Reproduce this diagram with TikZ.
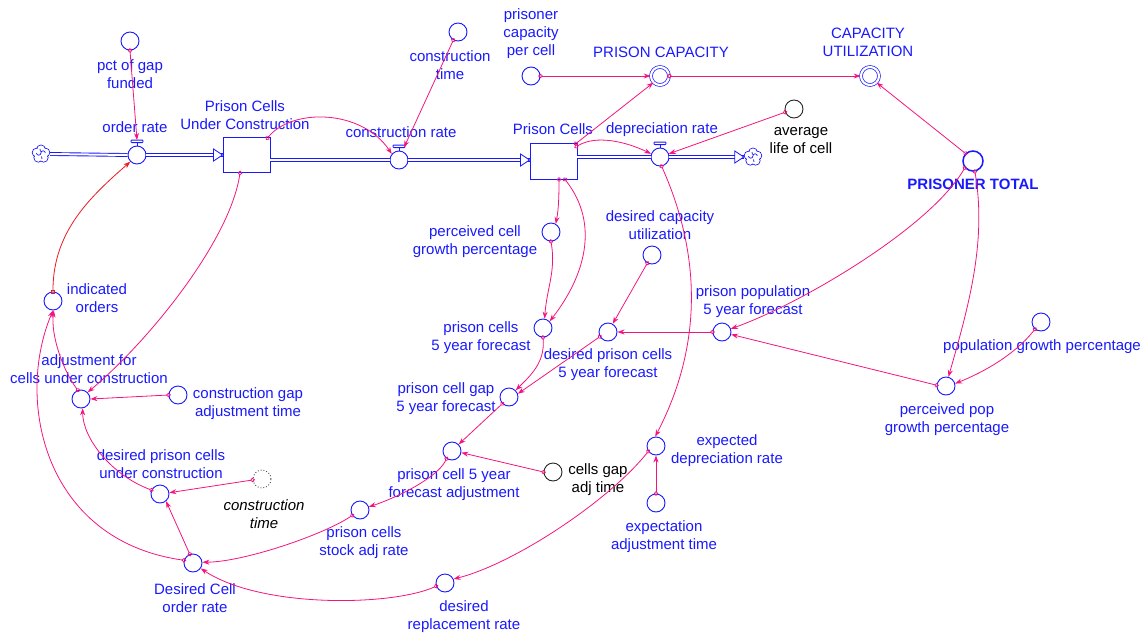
\documentclass[tikz,border=0pt]{standalone}
\usepackage{fontspec}
\setmainfont{Liberation Sans}
\usetikzlibrary{arrows.meta,calc}
\definecolor{vblue}{RGB}{25,25,255}
\definecolor{vpink}{RGB}{245,20,125}
\definecolor{vred}{RGB}{235,25,35}
\newcommand\vvalve[1]{%
  \draw[vblue,line width=0.9pt] (#1.north) -- ([yshift=3pt]#1.north);
  \draw[vblue,line width=0.9pt,fill=white,rounded corners=0.8pt] ([xshift=-6pt,yshift=3pt]#1.north) rectangle ([xshift=6pt,yshift=5.5pt]#1.north);}
\newcommand\vcloud[1]{%
  \foreach \a in {18,90,162,234,306}
    \draw[vblue,line width=0.8pt,fill=white] ([shift={(\a:4.6pt)}]#1.center) circle[radius=4.4pt];
  \foreach \a in {18,90,162,234,306}
    \fill[white] ([shift={(\a:4.6pt)}]#1.center) circle[radius=3.8pt];
  \fill[white] (#1.center) circle[radius=5pt];
  \draw[vblue,line width=0.7pt] ([xshift=-4.5pt,yshift=1pt]#1.center) arc[start angle=180,end angle=360,radius=2.2pt] arc[start angle=180,end angle=0,radius=2.2pt];
  \draw[vblue,line width=0.7pt] ([xshift=-1pt,yshift=5pt]#1.center) -- ([xshift=-0.5pt,yshift=2.5pt]#1.center);
  \draw[vblue,line width=0.7pt] ([xshift=1pt,yshift=-5pt]#1.center) -- ([xshift=0.5pt,yshift=-2.5pt]#1.center);}
\newcommand\intri[1]{%
  \draw[vblue,line width=0.8pt,fill=white] ([xshift=-9pt,yshift=6pt]#1) -- (#1) -- ([xshift=-9pt,yshift=-6pt]#1) -- cycle;}
\begin{document}
\begin{tikzpicture}[x=1pt,y=-1pt,font=\fontsize{15}{18}\selectfont,
 aux/.style={circle,draw=vblue,minimum size=18pt,inner sep=0pt,line width=0.9pt,fill=white},
 blk/.style={aux,draw=black!85},
 shadowv/.style={aux,draw=black!70,dotted},
 dbl/.style={aux,double,double distance=2.2pt,line width=0.7pt},
 lab/.style={text=vblue,align=center,inner sep=0pt},
 blab/.style={lab,text=black},
 stockbox/.style={draw=vblue,rectangle,line width=0.9pt,inner sep=0pt,fill=white},
 pipe/.style={draw=vblue,double=white,double distance=2pt,line width=0.9pt},
 link/.style={draw=vpink,line width=0.8pt,{Circle[open,length=4.5pt,width=4.5pt]}-{Stealth[length=7pt,width=5pt]},shorten <=-2.2pt},
 redlink/.style={draw=vred,line width=0.8pt,{Square[open,length=4pt,width=4pt]}-{Stealth[length=7pt,width=5pt]},shorten <=-2pt},
 srcsink/.style={circle,minimum size=18pt,inner sep=0pt}]
\useasboundingbox (0,0) rectangle (1144,635);

% ---- stocks, flows, clouds
\node[srcsink] (srcA) at (41,154) {};
\node[aux] (orderrate) at (137,155) {};
\node[stockbox,minimum width=47pt,minimum height=35pt] (pcuc) at (246.5,155) {};
\node[aux] (constr) at (399,160) {};
\node[stockbox,minimum width=47pt,minimum height=36pt] (pcells) at (553.5,161) {};
\node[aux] (deprec) at (660,157) {};
\node[srcsink] (snk) at (753,157) {};

% ---- auxiliaries
\node[aux] (pct) at (130,41) {};
\node[aux] (ctime) at (458,32) {};
\node[aux] (pcpc) at (531,76) {};
\node[dbl] (pcap) at (660,76) {};
\node[dbl] (cu) at (870,76) {};
\node[blk] (avg) at (794,109) {};
\node[aux,minimum size=20pt,line width=1.5pt] (ptotal) at (973,161) {};
\node[aux] (popgp) at (1041,322) {};
\node[aux] (ppgp) at (946,386) {};
\node[aux] (ppop5) at (722,332) {};
\node[aux] (dcu) at (652,255) {};
\node[aux] (dpc5) at (608,332) {};
\node[aux] (pcgp) at (551,232) {};
\node[aux] (pc5) at (543,328) {};
\node[aux] (gap) at (509,397) {};
\node[aux] (adjfc) at (452,451) {};
\node[blk] (cgat) at (553,472) {};
\node[aux] (expdep) at (656,446) {};
\node[aux] (eat) at (656,503) {};
\node[aux] (stockadj) at (360,510) {};
\node[aux] (drr) at (445,583) {};
\node[aux] (dcor) at (193,563) {};
\node[aux] (dpcuc) at (160,494) {};
\node[shadowv] (ct2) at (262,479) {};
\node[aux] (adj) at (81,399) {};
\node[aux] (cgap) at (178,395) {};
\node[aux] (ind) at (53,301) {};

% ---- pipes
\draw[pipe] (srcA.east) -- (orderrate.west);
\draw[pipe] (orderrate.east) -- (pcuc.west);
\draw[pipe] (pcuc.east |- constr) -- (constr.west);
\coordinate (pin) at (pcells.west |- constr);
\draw[pipe] (constr.east) -- (pin);
\draw[pipe] (pcells.east |- deprec) -- (deprec.west);
\draw[pipe] (deprec.east) -- (snk.west);
\intri{pcuc.west}
\intri{pin}
\intri{snk.west}
\vcloud{srcA}
\vcloud{snk}
\vvalve{orderrate}
\vvalve{constr}
\vvalve{deprec}

% ---- labels
\node[lab] (lpct) at (130,74) {pct of gap\\funded};
\node[lab] (lorder) at (135,127) {order rate};
\node[lab] (lpcuc) at (245,115) {Prison Cells\\Under Construction};
\node[lab] (lconstr) at (401,132) {construction rate};
\node[lab] (lctime) at (450,65) {construction\\time};
\node[lab] (lpcpc) at (531,34) {prisoner\\capacity\\per cell};
\node[lab] (lpcap) at (661,52) {PRISON CAPACITY};
\node[lab] (lcu) at (868,42) {CAPACITY\\UTILIZATION};
\node[lab] (lpcells) at (553,129) {Prison Cells};
\node[lab] (ldep) at (662,130) {depreciation rate};
\node[blab] (lavg) at (801,141) {average\\life of cell};
\node[lab] (lpt) at (973,184) {\textbf{PRISONER TOTAL}};
\node[lab] (lpopgp) at (1042,347) {population growth percentage};
\node[lab] (lppgp) at (947,420) {perceived pop\\growth percentage};
\node[lab] (lppop5) at (753,302) {prison population\\5 year forecast};
\node[lab] (ldcu) at (660,225) {desired capacity\\utilization};
\node[lab] (ldpc5) at (608,365) {desired prison cells\\5 year forecast};
\node[lab] (lpcgp) at (475,242) {perceived cell\\growth percentage};
\node[lab] (lpc5) at (481,338) {prison cells\\5 year forecast};
\node[lab] (lgap) at (446,399) {prison cell gap\\5 year forecast};
\node[lab] (ladjfc) at (454,485) {prison cell 5 year\\forecast adjustment};
\node[blab] (lcgat) at (598,480) {cells gap\\adj time};
\node[lab] (lexpdep) at (727,451) {expected\\depreciation rate};
\node[lab] (leat) at (664,537) {expectation\\adjustment time};
\node[lab] (lstockadj) at (364,543) {prison cells\\stock adj rate};
\node[lab] (ldrr) at (464,617) {desired\\replacement rate};
\node[lab] (ldcor) at (195,598) {Desired Cell\\order rate};
\node[lab] (ldpcuc) at (161,464) {desired prison cells\\under construction};
\node[blab,font=\fontsize{15}{18}\selectfont\itshape] (lct2) at (264,514) {construction\\time};
\node[lab] (ladj) at (89,369) {adjustment for\\cells under construction};
\node[lab] (lcgap) at (248,404) {construction gap\\adjustment time};
\node[lab] (lind) at (97,298) {indicated\\orders};

% ---- links
\draw[link] (pct.south) -- ([yshift=5.5pt]orderrate.north);
\draw[redlink] (ind.north) .. controls +(0,-60) and +(-40,35) .. (orderrate.225);
\draw[link] ([xshift=-3pt,yshift=-1pt]pcuc.north east) .. controls +(25,-30) and +(-30,-45) .. (constr.140);
\draw[link] (ctime.240) -- ([xshift=5pt,yshift=3pt]constr.north);
\draw[link] ([xshift=-6.5pt]pcuc.south) .. controls +(-10,67) and +(62.6,-52.6) .. (adj.45);
\draw[link] (pcpc.east) -- (pcap.west);
\draw[link] ([xshift=-1.5pt,yshift=-1pt]pcells.north east) -- (pcap.225);
\draw[link] (pcap.east) -- (cu.west);
\draw[link] (ptotal.135) -- (cu.-45);
\draw[link] ([xshift=-1pt,yshift=-4pt]pcells.north east) .. controls +(20,-12) and +(-25,-12) .. (deprec.160);
\draw[link] (avg.200) -- (deprec.20);
\draw[link] (deprec.-80) .. controls +(40,90) and +(47,-90) .. (expdep.95);
\draw[link] ([xshift=5.5pt]pcells.south) .. controls +(0,15) and +(3,-15) .. (pcgp.60);
\draw[link] ([xshift=11.5pt]pcells.south) .. controls +(35,45) and +(35,-45) .. (pc5.45);
\draw[link] (pcgp.south) .. controls +(5,30) and +(2,-30) .. (pc5.80);
\draw[link] (pc5.south) .. controls +(2,25) and +(15,-15) .. (gap.45);
\draw[link] (dcu.240) -- (dpc5.60);
\draw[link] (ppop5.west) -- (dpc5.east);
\draw[link] (dpc5.210) -- (gap.20);
\draw[link] (ptotal.220) .. controls +(-35,60) and +(70,-25) .. (ppop5.20);
\draw[link] (ppgp.175) -- (ppop5.-15);
\draw[link] (ptotal.-80) .. controls +(12,70) and +(20,-70) .. (ppgp.75);
\draw[link] (popgp.-130) .. controls +(-20,25) and +(30,-12) .. (ppgp.15);
\draw[link] (gap.225) -- (adjfc.45);
\draw[link] (cgat.west) -- (adjfc.-10);
\draw[link] (adjfc.235) .. controls +(-10,20) and +(25,-8) .. (stockadj.20);
\draw[link] (stockadj.215) .. controls +(-30,20) and +(40,0) .. (dcor.5);
\draw[link] (expdep.215) .. controls +(-40,50) and +(60,-15) .. (drr.25);
\draw[link] (eat.north) -- (expdep.south);
\draw[link] (drr.200) .. controls +(-45,20) and +(60,40) .. (dcor.-35);
\draw[link] (dcor.110) -- (dpcuc.-50);
\draw[link] (ct2.186) -- (dpcuc.8);
\draw[link] (dcor.163) .. controls +(-140,-20) and +(-38,90) .. (ind.-90);
\draw[link] (dpcuc.155) .. controls +(-40,-15) and +(0,30) .. (adj.-80);
\draw[link] (cgap.west) -- (adj.east);
\draw[link] (adj.110) .. controls +(-15,-20) and +(-3,25) .. (ind.-85);
\end{tikzpicture}
\end{document}
